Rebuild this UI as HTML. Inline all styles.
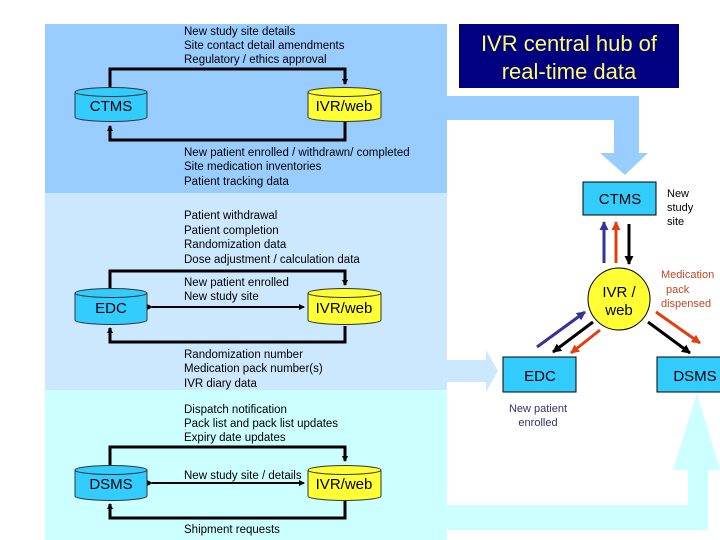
<!DOCTYPE html>
<html><head><meta charset="utf-8"><style>
html,body{margin:0;padding:0;background:#fff;}
svg{display:block;}
text{font-family:"Liberation Sans",Arial,sans-serif;}
</style></head><body>
<svg width="720" height="540" viewBox="0 0 720 540" xmlns="http://www.w3.org/2000/svg">
<defs>
<marker id="ak" markerWidth="6" markerHeight="6" refX="5" refY="3" orient="auto" markerUnits="userSpaceOnUse"><path d="M0,0 L6,3 L0,6 z" fill="#000"/></marker>
<marker id="ab" markerWidth="9" markerHeight="9" refX="8" refY="4.5" orient="auto" markerUnits="userSpaceOnUse"><path d="M0,0 L9,4.5 L0,9 z" fill="#333399"/></marker>
<marker id="ar" markerWidth="9" markerHeight="9" refX="8" refY="4.5" orient="auto" markerUnits="userSpaceOnUse"><path d="M0,0 L9,4.5 L0,9 z" fill="#e04010"/></marker>
<marker id="ad" markerWidth="9" markerHeight="9" refX="8" refY="4.5" orient="auto" markerUnits="userSpaceOnUse"><path d="M0,0 L9,4.5 L0,9 z" fill="#000"/></marker>
</defs>
<!-- bands -->
<rect x="45" y="24" width="402" height="169" fill="#99ccff"/>
<rect x="45" y="193" width="402" height="197" fill="#cce8ff"/>
<rect x="45" y="390" width="402" height="150" fill="#ccffff"/>
<!-- big arrows -->
<path d="M447,96 H639 V153 H648 L625,175 L600,153 H614 V120 H447 z" fill="#99ccff"/>
<path d="M447,360 H486 V350 L498,371 L486,392 V382 H447 z" fill="#cce8ff"/>
<path d="M447,505 H688 V470 H673 L697,393 L720,470 H708 V530 H447 z" fill="#ccffff"/>
<!-- hub -->
<rect x="459" y="24" width="220" height="64" fill="#000080"/>
<text x="569" y="51" text-anchor="middle" font-size="22" fill="#ffff66">IVR central hub of</text>
<text x="569" y="79" text-anchor="middle" font-size="22" fill="#ffff66">real-time data</text>

<g font-size="11.5" fill="#000">
<text x="184" y="35">New study site details</text>
<text x="184" y="49">Site contact detail amendments</text>
<text x="184" y="63">Regulatory / ethics approval</text>
<text x="184" y="156">New patient enrolled / withdrawn/ completed</text>
<text x="184" y="170">Site medication inventories</text>
<text x="184" y="185">Patient tracking data</text>
<text x="184" y="219">Patient withdrawal</text>
<text x="184" y="234">Patient completion</text>
<text x="184" y="248">Randomization data</text>
<text x="184" y="263">Dose adjustment / calculation data</text>
<text x="184" y="286">New patient enrolled</text>
<text x="184" y="300">New study site</text>
<text x="184" y="358">Randomization number</text>
<text x="184" y="372">Medication pack number(s)</text>
<text x="184" y="387">IVR diary data</text>
<text x="184" y="413">Dispatch notification</text>
<text x="184" y="427">Pack list and pack list updates</text>
<text x="184" y="441">Expiry date updates</text>
<text x="184" y="479">New study site / details</text>
<text x="184" y="533">Shipment requests</text>
</g>

<!-- connectors -->
<g stroke="#000" stroke-width="3" fill="none">
<path d="M110,88 V69 H345 V84" marker-end="url(#ak)"/>
<path d="M345,122 V140 H110 V126" marker-end="url(#ak)"/>
<path d="M110,289 V271 H345 V285" marker-end="url(#ak)"/>
<path d="M345,326 V342 H110 V328" marker-end="url(#ak)"/>
<path d="M110,466 V447 H345 V461" marker-end="url(#ak)"/>
<path d="M345,501 V518 H110 V504" marker-end="url(#ak)"/>
</g>
<g stroke="#000" stroke-width="2">
<line x1="152" y1="307" x2="304" y2="307" marker-end="url(#ak)" marker-start="url(#ak)"/>
<line x1="152" y1="483" x2="304" y2="483" marker-end="url(#ak)" marker-start="url(#ak)"/>
</g>
<path d="M0,0" />

<!-- cylinders -->
<g stroke="#333" stroke-width="1">
<g fill="#33ccff">
<path d="M75,92 V117 A36,4.5 0 0 0 147,117 V92"/><ellipse cx="111" cy="92" rx="36" ry="4.5"/>
<path d="M75,293 V320 A36,4.5 0 0 0 147,320 V293"/><ellipse cx="111" cy="293" rx="36" ry="4.5"/>
<path d="M75,470 V496 A36,4.5 0 0 0 147,496 V470"/><ellipse cx="111" cy="470" rx="36" ry="4.5"/>
</g>
<g fill="#ffff33">
<path d="M308,92 V117 A36.5,4.5 0 0 0 381,117 V92"/><ellipse cx="344.5" cy="92" rx="36.5" ry="4.5"/>
<path d="M308,293 V320 A36.5,4.5 0 0 0 381,320 V293"/><ellipse cx="344.5" cy="293" rx="36.5" ry="4.5"/>
<path d="M308,470 V496 A36.5,4.5 0 0 0 381,496 V470"/><ellipse cx="344.5" cy="470" rx="36.5" ry="4.5"/>
</g>
</g>
<g font-size="15" text-anchor="middle" fill="#000">
<text x="111" y="111">CTMS</text>
<text x="344" y="111">IVR/web</text>
<text x="111" y="313">EDC</text>
<text x="344" y="313">IVR/web</text>
<text x="111" y="489">DSMS</text>
<text x="344" y="489">IVR/web</text>
</g>

<!-- right diagram -->
<rect x="583" y="182" width="73" height="33" fill="#33ccff" stroke="#000"/>
<rect x="503" y="357" width="73" height="35" fill="#33ccff" stroke="#000"/>
<rect x="657" y="357" width="70" height="35" fill="#33ccff" stroke="#000"/>
<circle cx="619" cy="299" r="31" fill="#ffff33" stroke="#000"/>
<g font-size="15" text-anchor="middle">
<text x="620" y="204">CTMS</text>
<text x="540" y="381">EDC</text>
<text x="695" y="381">DSMS</text>
<text x="619" y="297">IVR /</text>
<text x="619" y="315">web</text>
</g>
<g stroke-width="3">
<line x1="604" y1="263" x2="604" y2="222" stroke="#333399" marker-end="url(#ab)"/>
<line x1="616" y1="263" x2="616" y2="222" stroke="#e04010" marker-end="url(#ar)"/>
<line x1="629" y1="224" x2="629" y2="264" stroke="#000" marker-end="url(#ad)"/>
<line x1="537" y1="347" x2="585" y2="312" stroke="#333399" marker-end="url(#ab)"/>
<line x1="593" y1="322" x2="553" y2="352" stroke="#000" marker-end="url(#ad)"/>
<line x1="600" y1="330" x2="571" y2="353" stroke="#e04010" marker-end="url(#ar)"/>
<line x1="648" y1="322" x2="690" y2="353" stroke="#000" marker-end="url(#ad)"/>
<line x1="656" y1="312" x2="700" y2="343" stroke="#e04010" marker-end="url(#ar)"/>
</g>
<g font-size="11">
<text x="667" y="197">New</text>
<text x="667" y="211">study</text>
<text x="667" y="225">site</text>
<text x="538" y="412" text-anchor="middle" fill="#333366">New patient</text>
<text x="538" y="426" text-anchor="middle" fill="#333366">enrolled</text>
<g fill="#c04820">
<text x="661" y="278">Medication</text>
<text x="666" y="293">pack</text>
<text x="661" y="307">dispensed</text>
</g>
</g>
</svg>
</body></html>
